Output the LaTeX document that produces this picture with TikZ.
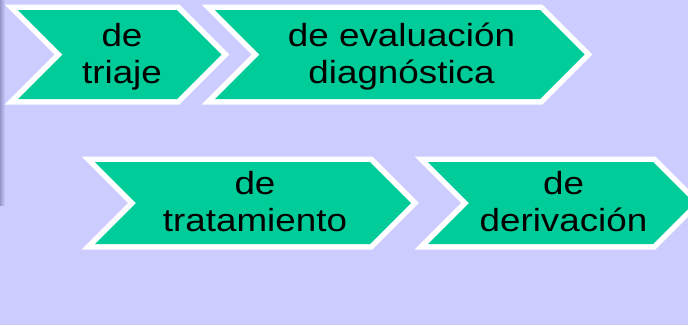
\documentclass[tikz,border=0pt]{standalone}
\usepackage{fontspec}
\setmainfont[FakeStretch=1.15]{Liberation Sans}
\definecolor{fondo}{RGB}{204,204,255}
\definecolor{sombra}{RGB}{150,150,200}
\definecolor{verde}{RGB}{0,204,153}
\begin{document}
\begin{tikzpicture}[x=1pt,y=-1pt,
		flecha/.style={fill=verde, preaction={draw=white, line width=11pt}},
		texto/.style={align=center, inner sep=0pt, font=\fontsize{32}{37}\selectfont}]
			\def\flecha[#1](#2,#3,#4,#5){
				\path[#1](#2,#3)--(#4,#3)--(#4+#5,#3+#5)--(#4,#3+2*#5)--(#2,#3+2*#5)--(#2+#5,#3+#5)--cycle;}
			\clip (0,0) rectangle (688,325);
			\fill[fondo] (0,0) rectangle (688,325);
			\shade[left color=sombra, right color=fondo] (0,0) rectangle (5,205);
			\flecha[flecha](18,10,177,44.5)
			\flecha[flecha](215,10,540,44.5)
			\flecha[flecha](95,162,370,41)
			\flecha[flecha](428,162,653,41)
			\node[texto] (triaje) at (122,58) {\strut de\\\strut triaje};
			\node[texto] (evaluacion) at (401.5,58) {\strut de evaluación\\\strut diagnóstica};
			\node[texto] (tratamiento) at (255,206) {\strut de\\\strut tratamiento};
			\node[texto] (derivacion) at (563.5,206) {\strut de\\\strut derivación};
		\end{tikzpicture}
\end{document}
